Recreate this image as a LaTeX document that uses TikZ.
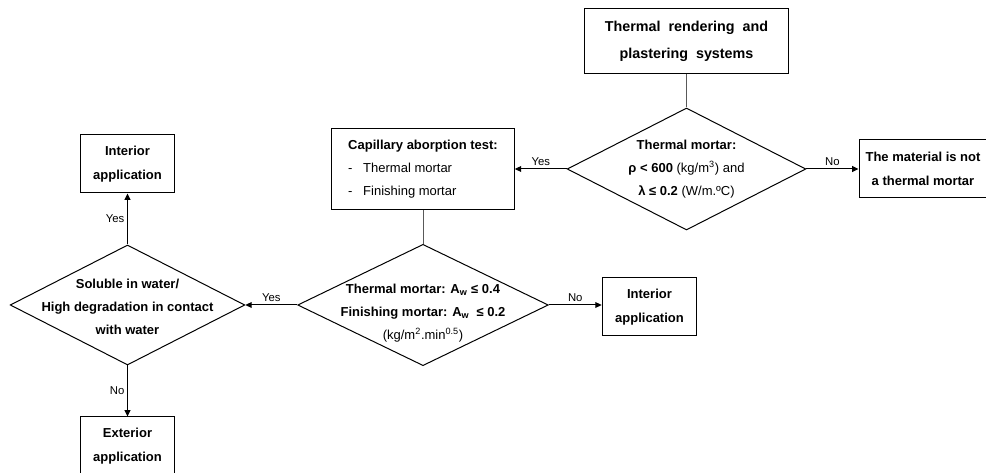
\documentclass[tikz,border=0pt]{standalone}
\usepackage{fontspec}
\setmainfont{Liberation Sans}
\usetikzlibrary{shapes.geometric,arrows.meta}

\begin{document}
\begin{tikzpicture}[x=0.75pt,y=-0.75pt,
  box/.style={draw=black,line width=0.75pt,inner sep=0pt,align=center,
    font=\fontsize{9.75}{18}\selectfont\bfseries},
  dia/.style={draw=black,line width=0.75pt,diamond,inner sep=0pt},
  txt/.style={align=center,font=\fontsize{9.75}{18}\selectfont},
  lbl/.style={font=\fontsize{8.5}{10}\selectfont,inner sep=2pt},
  arr/.style={-{Triangle[length=4.8pt,width=4.4pt]},line width=0.75pt,draw=black},
  conn/.style={line width=0.75pt,draw=black!65}]

\useasboundingbox (0,0) rectangle (986,473);

% boxes
\node[box,minimum width=153pt,minimum height=48.75pt,
  font=\fontsize{10.75}{20}\selectfont\bfseries] (top) at (686.5,41)
  {Thermal\ \ rendering\ \ and\\plastering\ \ systems};
\node[box,minimum width=96pt,minimum height=43.5pt] (notmortar) at (923,169)
  {The material is not\\a thermal mortar};
\node[draw=black,line width=0.75pt,minimum width=137pt,minimum height=61pt] (capil) at (423,169) {};
\node[txt,align=left] at (capil)
  {\textbf{Capillary aborption test:}\\[-1pt]-\hspace{8pt}Thermal mortar\\[-1pt]-\hspace{8pt}Finishing mortar};
\node[box,minimum width=71pt,minimum height=43.5pt] (int2) at (649.5,307)
  {Interior\\application};
\node[box,minimum width=70pt,minimum height=43.5pt] (int1) at (127.5,164)
  {Interior\\application};
\node[box,minimum width=71pt,minimum height=43.5pt] (ext) at (127.5,446)
  {Exterior\\application};

% decisions
\node[dia,minimum width=179pt,minimum height=91.5pt] (d1) at (686.5,169) {};
\node[txt] at (d1)
  {\textbf{Thermal mortar:}\\[-1pt]\textbf{ρ < 600} (kg/m\textsuperscript{3}) and\\[-1pt]\textbf{λ ≤ 0.2} (W/m.ºC)};
\node[dia,minimum width=188pt,minimum height=91pt] (d2) at (423,305) {};
\node[txt] at ([yshift=-6pt]d2.center)
  {\textbf{Thermal mortar: A\textsubscript{w} ≤ 0.4}\\[-1pt]\textbf{Finishing mortar: A\textsubscript{w}\ \ ≤ 0.2}\\[-1pt](kg/m\textsuperscript{2}.min\textsuperscript{0.5})};
\node[dia,minimum width=176pt,minimum height=90pt] (d3) at (127.5,305) {};
\node[txt,font=\fontsize{9.75}{18}\selectfont\bfseries] at ([yshift=-1.5pt]d3.center)
  {Soluble in water/\\[-0.5pt]High degradation in contact\\[-0.5pt]with water};

% connectors
\draw[conn] (top) -- (d1);
\draw[conn] (capil) -- (d2);
\draw[arr] (d1.west) -- (capil.east) node[lbl,above,midway] {Yes};
\draw[arr] (d1.east) -- (notmortar.west) node[lbl,above,midway] {No};
\draw[arr] (d2.west) -- (d3.east) node[lbl,above,midway] {Yes};
\draw[arr] (d2.east) -- (d2.east -| int2.west) node[lbl,above,midway] {No};
\draw[arr] (d3.north) -- (int1.south) node[lbl,left,midway] {Yes};
\draw[arr] (d3.south) -- (ext.north) node[lbl,left,midway] {No};

\end{tikzpicture}
\end{document}
